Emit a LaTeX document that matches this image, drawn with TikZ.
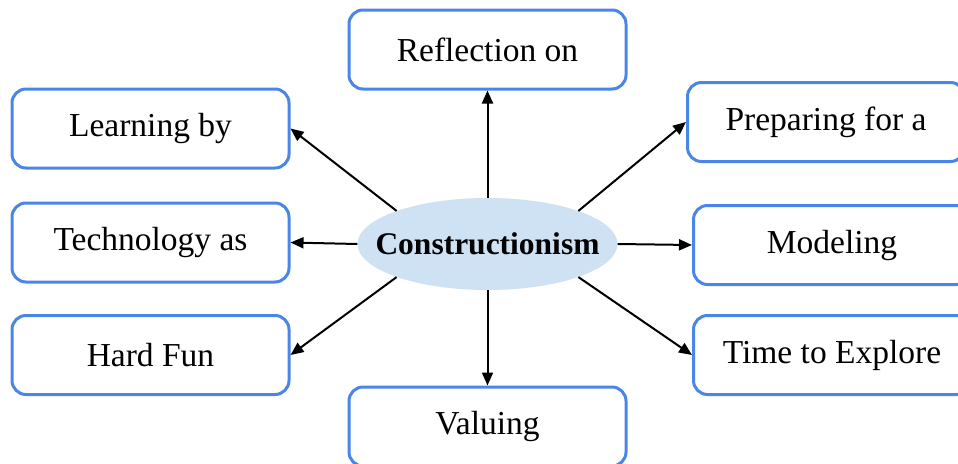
\documentclass[tikz,border=0pt]{standalone}
\usepackage{fontspec}
\setmainfont{Liberation Serif}
\usetikzlibrary{shapes.geometric,arrows.meta}
\definecolor{boxblue}{HTML}{4A86E8}
\definecolor{ellfill}{HTML}{CFE2F3}
\begin{document}
\begin{tikzpicture}[x=1pt,y=-1pt,
  conceptbox/.style={draw=boxblue,line width=3pt,rounded corners=14pt,fill=white,
    minimum width=277pt,minimum height=79pt,inner sep=0pt,
    font=\fontsize{33.5}{40}\selectfont},
  hub/.style={ellipse,fill=ellfill,minimum width=260pt,minimum height=92pt,inner sep=0pt},
  hublabel/.style={inner sep=0pt,font=\fontsize{31.5}{38}\selectfont\bfseries},
  link/.style={line width=2pt,-{Triangle[length=13pt,width=11pt]}}]
\path[use as bounding box] (0,0) rectangle (958,463);
\clip (0,0) rectangle (958,463);
\fill[white] (0,0) rectangle (958,463);
\node[hub] (c) at (487.5,244) {};
\node[hublabel] (clabel) at (c.center) {Constructionism};
\node[conceptbox] (refl) at (487.5,49.5) {Reflection on};
\node[conceptbox] (learn) at (150.5,128.5) {Learning by};
\node[conceptbox] (tech) at (150.5,242.5) {Technology as};
\node[conceptbox] (hard) at (150.5,355) {Hard Fun};
\node[conceptbox] (prep) at (826,122) {Preparing for a};
\node[conceptbox] (model) at (832,245) {Modeling};
\node[conceptbox] (time) at (832,355) {Time to Explore};
\node[conceptbox] (val) at (487.5,426.5) {Valuing};
\draw[link] (c.90) -- (refl.south);
\draw[link] (c.270) -- (val.north);
\draw[link] (c.0) -- (model.west);
\draw[link] (c.180) -- (tech.east);
\draw[link] (c.160) -- (learn.east);
\draw[link] (c.200) -- (hard.east);
\draw[link] (c.20) -- (prep.west);
\draw[link] (c.-20) -- (time.west);
\end{tikzpicture}
\end{document}
